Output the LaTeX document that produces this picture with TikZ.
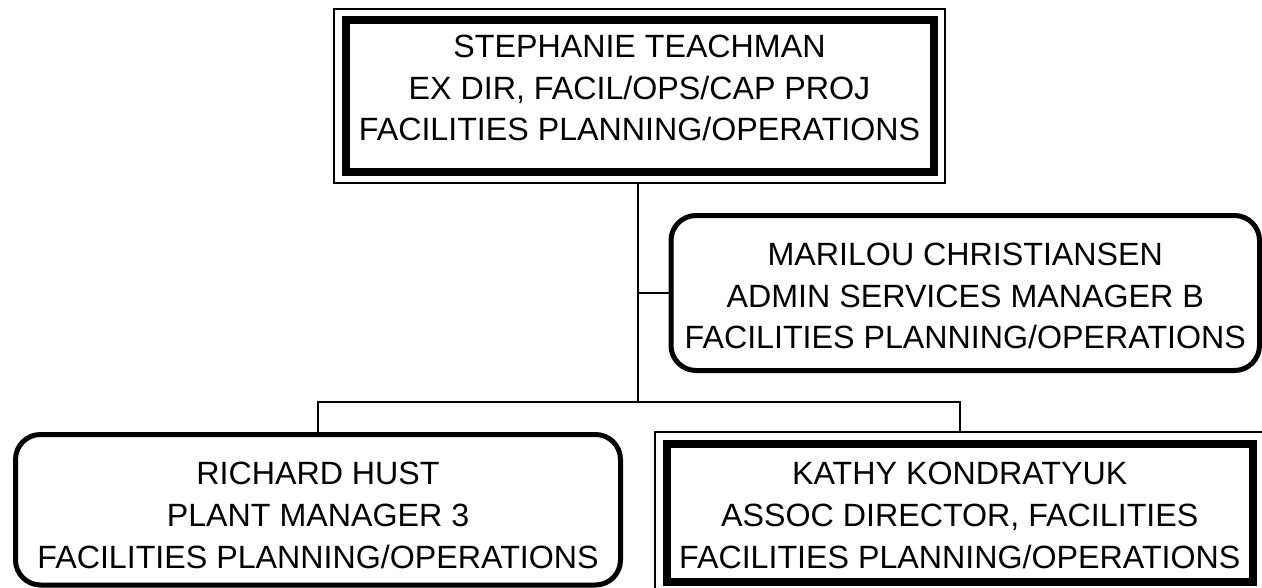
\documentclass[tikz,border=0pt]{standalone}
\usepackage{fontspec}
\setmainfont{Liberation Sans}
\usetikzlibrary{positioning}
\begin{document}
\begin{tikzpicture}[x=1pt,y=-1pt,
    every node/.style={inner sep=0pt, outer sep=0pt},
    nametext/.style={font=\fontsize{32.2}{41.8}\selectfont, align=center},
    headbox/.style={draw, line width=8pt},
    frame/.style={draw, line width=2pt},
    staffbox/.style={draw, line width=5pt, rounded corners=25pt},
    link/.style={line width=2pt}]
  \useasboundingbox (0,0) rectangle (1262,587);
  % director
  \node[headbox, minimum width=588pt, minimum height=152pt] (stephanie) at (639.5,95.5) {};
  \node[frame, minimum width=611pt, minimum height=174pt] (stephanieframe) at (stephanie.center) {};
  \node[nametext] (stephanietext) at ([yshift=7.5pt]stephanie.center)
    {STEPHANIE TEACHMAN\\EX DIR, FACIL/OPS/CAP PROJ\\FACILITIES PLANNING/OPERATIONS};
  % staff
  \node[staffbox, minimum width=588.5pt, minimum height=155pt] (marilou) at (965.25,293) {};
  \node[nametext] (mariloutext) at ([yshift=-3pt]marilou.center)
    {MARILOU CHRISTIANSEN\\ADMIN SERVICES MANAGER B\\FACILITIES PLANNING/OPERATIONS};
  % reports
  \node[staffbox, minimum width=605pt, minimum height=150.5pt] (richard) at (318,509.75) {};
  \node[nametext] (richardtext) at ([yshift=-5.5pt]richard.center)
    {RICHARD HUST\\PLANT MANAGER 3\\FACILITIES PLANNING/OPERATIONS};
  \node[headbox, minimum width=585.5pt, minimum height=138.5pt] (kathy) at (959.75,512.75) {};
  \node[frame, minimum width=609.5pt, minimum height=161.5pt] (kathyframe) at (kathy.center) {};
  \node[nametext] (kathytext) at ([yshift=-2.5pt]kathy.center)
    {KATHY KONDRATYUK\\ASSOC DIRECTOR, FACILITIES\\FACILITIES PLANNING/OPERATIONS};
  % lines
  \coordinate (busmid) at (638,402);
  \draw[link] (stephanieframe.south -| busmid) -- (busmid);
  \draw[link] (marilou.west) -- (marilou.west -| busmid);
  \draw[link] (richard.north) |- (busmid) -| (kathyframe.north);
\end{tikzpicture}
\end{document}
